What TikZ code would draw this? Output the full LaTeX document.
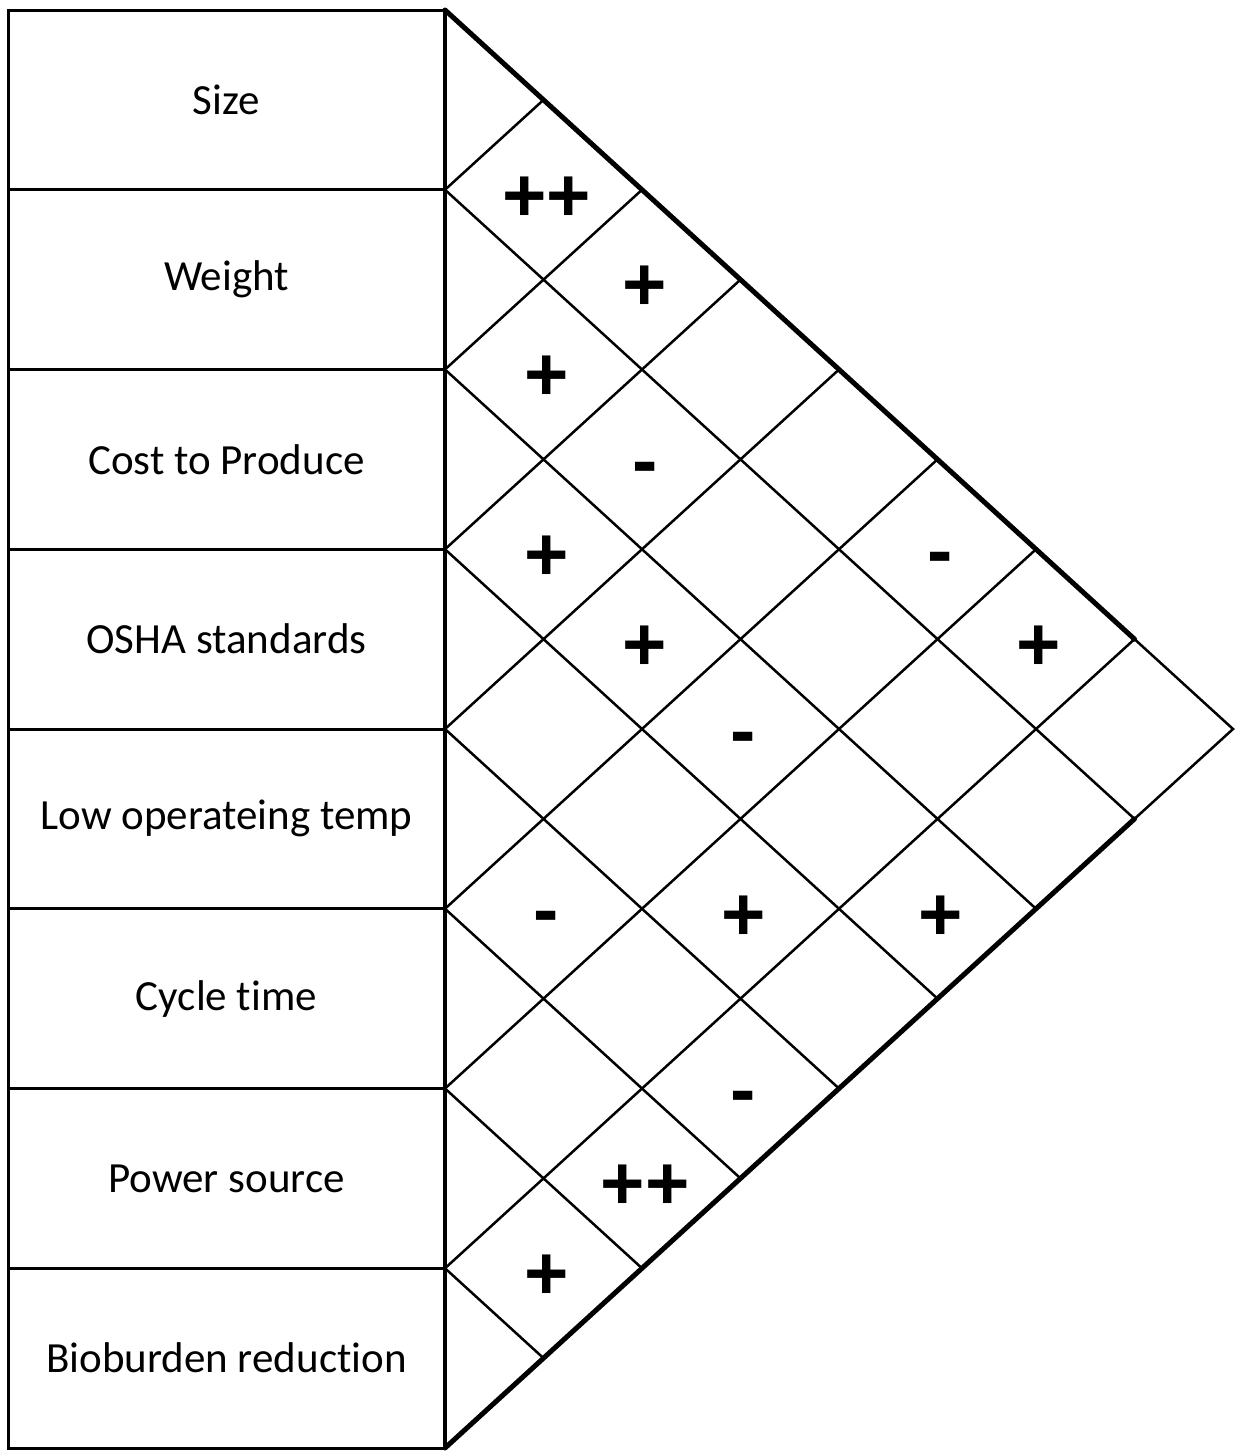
\documentclass[tikz,border=0pt]{standalone}
\usepackage{fontspec}
\setmainfont{Carlito}[Ligatures=NoCommon]
\newfontfamily\symfont{Liberation Sans}
\begin{document}
\begin{tikzpicture}[x=1pt,y=-1pt,
  rowbox/.style={draw, line width=3pt, minimum width=437pt, minimum height=179.75pt,
    inner sep=0pt, outer sep=0pt, font=\fontsize{43}{50}\selectfont},
  sym/.style={inner sep=0pt, xshift=3pt, font=\symfont\bfseries\fontsize{76}{80}\selectfont},
  plussym/.style={sym, yshift=-9pt},
  minussym/.style={sym, yshift=-15pt},
  gridline/.style={line width=2.5pt},
  thickedge/.style={line width=5pt, line cap=round}]
\useasboundingbox (0,0) rectangle (1238,1451);
\foreach \t [count=\k from 0] in {Size,Weight,Cost to Produce,OSHA standards,Low operateing temp,Cycle time,Power source,Bioburden reduction}
  \node[rowbox] (r\k) at (226.5,{10+179.75*(\k+0.5)}) {\t};
\begin{scope}[shift={(445,10)}, x={(98.5pt,0pt)}, y={(0pt,-89.875pt)}]
  \foreach \k in {1,...,7} {
    \draw[gridline] (0,{2*\k}) -- ({8-\k},{\k+8});
    \draw[gridline] (0,{2*\k}) -- (\k,\k);
  }
  \draw[gridline] (7,7) -- (8,8) -- (7,9);
  \draw[thickedge] (0,0) -- (7,7);
  \draw[thickedge] (0,16) -- (7,9);
  \draw[line width=4.5pt] (0,0) -- (0,16);
  \node[plussym] (s01) at (1,2) {++};
  \node[plussym] (s02) at (2,3) {+};
  \node[plussym] (s12) at (1,4) {+};
  \node[minussym] (s13) at (2,5) {-};
  \node[plussym] (s23) at (1,6) {+};
  \node[minussym] (s05) at (5,6) {-};
  \node[plussym] (s24) at (2,7) {+};
  \node[plussym] (s06) at (6,7) {+};
  \node[minussym] (s25) at (3,8) {-};
  \node[minussym] (s45) at (1,10) {-};
  \node[plussym] (s36) at (3,10) {+};
  \node[plussym] (s27) at (5,10) {+};
  \node[minussym] (s47) at (3,12) {-};
  \node[plussym] (s57) at (2,13) {++};
  \node[plussym] (s67) at (1,14) {+};
\end{scope}
\end{tikzpicture}
\end{document}
